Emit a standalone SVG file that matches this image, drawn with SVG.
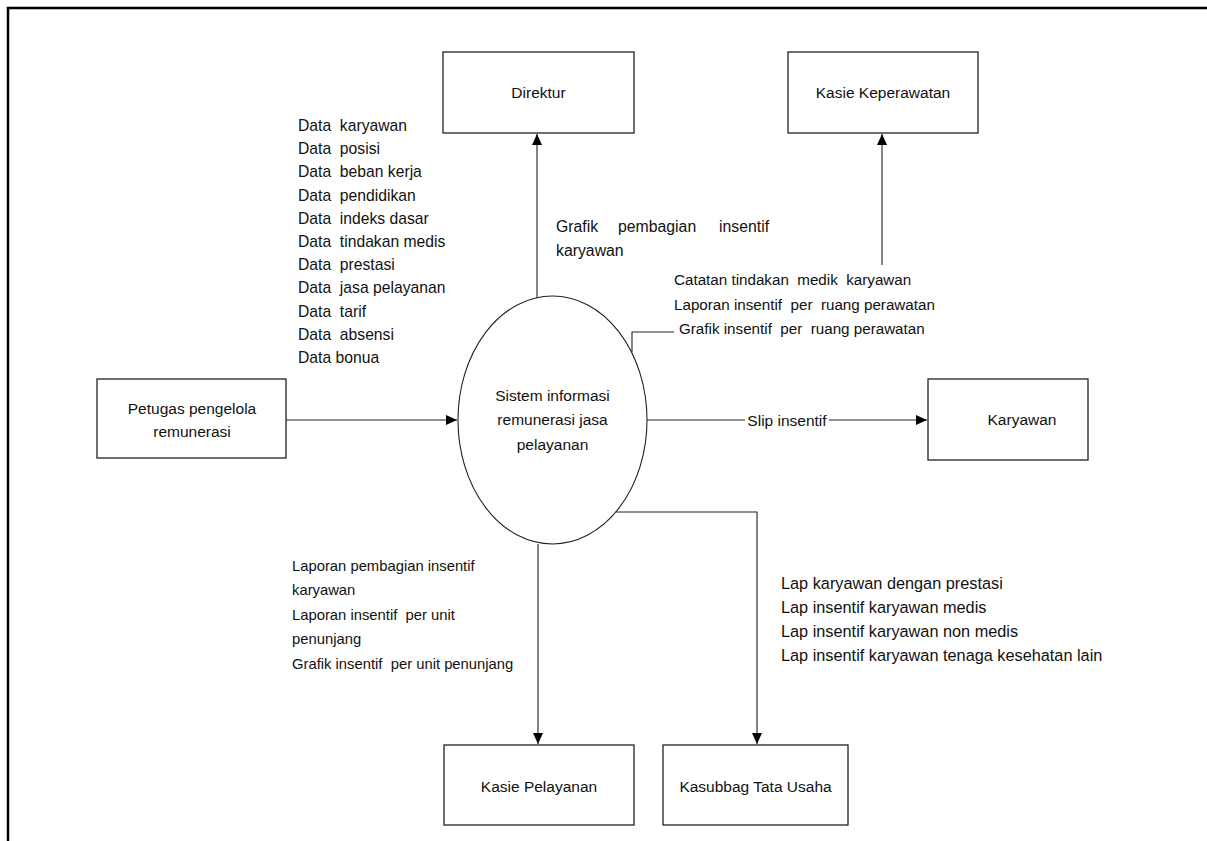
<svg xmlns="http://www.w3.org/2000/svg" width="1207" height="841" viewBox="0 0 1207 841" xml:space="preserve">
<style>
.box{fill:#fff;stroke:#222;stroke-width:1.3}
.ln{fill:none;stroke:#222;stroke-width:1.1}
text{font-family:"Liberation Sans",Arial,sans-serif;fill:#111;white-space:pre}
.nt{font-size:15.5px;text-anchor:middle}
</style>
<defs>
<marker id="ah" markerWidth="12" markerHeight="10" refX="11" refY="5" orient="auto" markerUnits="userSpaceOnUse">
<path d="M0,0 L11,5 L0,10 Z" fill="#000"/>
</marker>
</defs>
<rect x="0" y="0" width="1207" height="841" fill="#fff"/>
<path d="M8,841 V8 H1207" fill="none" stroke="#000" stroke-width="2.5"/>

<g id="connectors">
<path class="ln" d="M537,298 V134" marker-end="url(#ah)"/>
<path class="ln" d="M882,265 V134" marker-end="url(#ah)"/>
<path class="ln" d="M286,420 H457" marker-end="url(#ah)"/>
<path class="ln" d="M647,420 H927" marker-end="url(#ah)"/>
<path class="ln" d="M538,544 V744" marker-end="url(#ah)"/>
<path class="ln" d="M616,512 H757 V744" marker-end="url(#ah)"/>
<path class="ln" d="M632,352 V332 H674"/>
<rect x="745" y="410" width="84" height="20" fill="#fff"/>
<text x="787" y="425.5" font-size="15.5" text-anchor="middle">Slip insentif</text>
</g>

<g id="labels">
<g font-size="15.7">
<text x="298" y="131">Data  karyawan</text>
<text x="298" y="154.2">Data  posisi</text>
<text x="298" y="177.4">Data  beban kerja</text>
<text x="298" y="200.6">Data  pendidikan</text>
<text x="298" y="223.8">Data  indeks dasar</text>
<text x="298" y="247">Data  tindakan medis</text>
<text x="298" y="270.2">Data  prestasi</text>
<text x="298" y="293.4">Data  jasa pelayanan</text>
<text x="298" y="316.6">Data  tarif</text>
<text x="298" y="339.8">Data  absensi</text>
<text x="298" y="363">Data bonua</text>
</g>
<g font-size="15.8">
<text x="556" y="232">Grafik</text>
<text x="618" y="232">pembagian</text>
<text x="719" y="232">insentif</text>
<text x="556" y="256">karyawan</text>
</g>
<g font-size="15.2">
<text x="674" y="285">Catatan tindakan  medik  karyawan</text>
<text x="674" y="310">Laporan insentif  per  ruang perawatan</text>
<text x="679" y="334">Grafik insentif  per  ruang perawatan</text>
</g>
<g font-size="14.8">
<text x="292" y="571">Laporan pembagian insentif</text>
<text x="292" y="595">karyawan</text>
<text x="292" y="620">Laporan insentif  per unit</text>
<text x="292" y="644">penunjang</text>
<text x="292" y="669">Grafik insentif  per unit penunjang</text>
</g>
<g font-size="16.3">
<text x="781" y="589">Lap karyawan dengan prestasi</text>
<text x="781" y="613">Lap insentif karyawan medis</text>
<text x="781" y="637">Lap insentif karyawan non medis</text>
<text x="781" y="661">Lap insentif karyawan tenaga kesehatan lain</text>
</g>
</g>

<g id="direktur">
<rect class="box" x="443" y="52" width="191" height="81"/>
<text class="nt" x="538.5" y="98">Direktur</text>
</g>
<g id="kasie-keperawatan">
<rect class="box" x="788" y="52" width="190" height="81"/>
<text class="nt" x="883" y="98">Kasie Keperawatan</text>
</g>
<g id="petugas">
<rect class="box" x="97" y="379" width="189" height="79"/>
<text class="nt" x="192" y="414">Petugas pengelola</text>
<text class="nt" x="192" y="437">remunerasi</text>
</g>
<g id="sistem">
<ellipse cx="552.5" cy="420" rx="94.5" ry="124" fill="#fff" stroke="#222" stroke-width="1.1"/>
<text class="nt" x="552.5" y="401">Sistem informasi</text>
<text class="nt" x="552.5" y="425">remunerasi jasa</text>
<text class="nt" x="552.5" y="450">pelayanan</text>
</g>
<g id="karyawan">
<rect class="box" x="928" y="379" width="160" height="81"/>
<text class="nt" x="1022" y="425">Karyawan</text>
</g>
<g id="kasie-pelayanan">
<rect class="box" x="444" y="745" width="190" height="80"/>
<text class="nt" x="539" y="792">Kasie Pelayanan</text>
</g>
<g id="kasubbag">
<rect class="box" x="663" y="745" width="185" height="80"/>
<text class="nt" x="755.5" y="792">Kasubbag Tata Usaha</text>
</g>
</svg>
